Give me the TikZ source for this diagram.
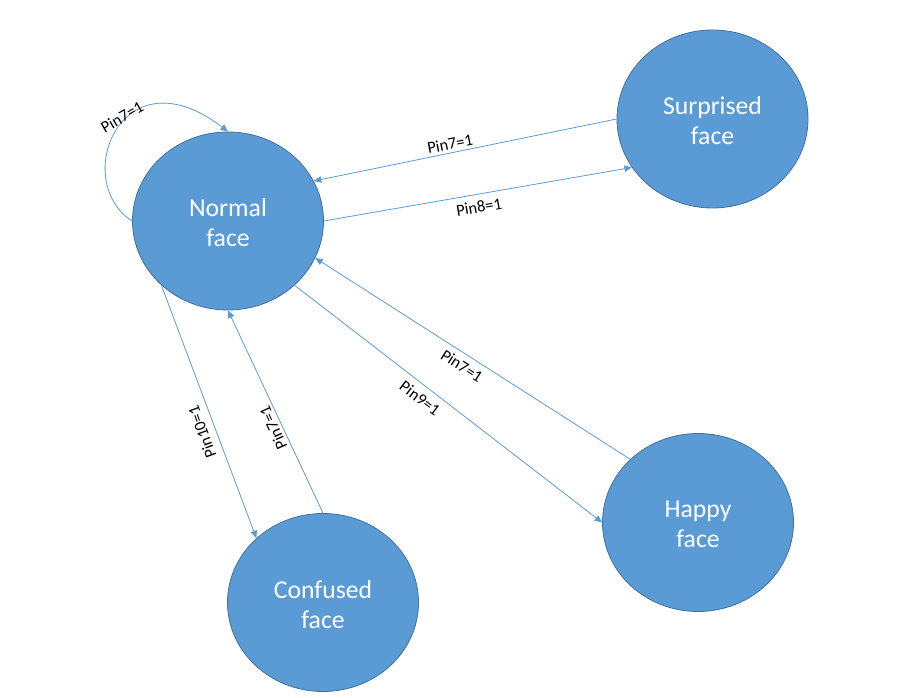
\documentclass[tikz,border=0pt]{standalone}
\usepackage{fontspec}
\setmainfont{Carlito}
\usetikzlibrary{shapes.geometric,arrows.meta}
\definecolor{fillblue}{HTML}{5B9BD5}
\definecolor{edgeblue}{HTML}{41719C}
\definecolor{lineblue}{HTML}{5B9BD5}
\tikzset{
  state/.style={ellipse, draw=edgeblue, line width=0.8pt, fill=fillblue,
    minimum width=191pt, minimum height=178pt, inner sep=0pt},
  statetext/.style={text=white, align=center, inner sep=0pt,
    font=\fontsize{25.7}{30}\selectfont},
  arr/.style={draw=lineblue, line width=0.8pt,
    -{Triangle[length=7.5pt,width=6.5pt]}},
  lbl/.style={font=\fontsize{16.5}{18}\selectfont, text=black, inner sep=1pt}
}
\begin{document}
\begin{tikzpicture}[x=1pt,y=1pt]
\useasboundingbox (0,0) rectangle (915,698);
\node[state] (N) at (228,477) {};
\node[state] (S) at (712.5,579) {};
\node[state] (H) at (698,175.5) {};
\node[state] (C) at (323,95.5) {};
\node[statetext] (Nt) at ([yshift=-2pt]N.center) {Normal\\face};
\node[statetext] (St) at ([yshift=-2pt]S.center) {Surprised\\face};
\node[statetext] (Ht) at ([yshift=-2pt]H.center) {Happy\\face};
\node[statetext] (Ct) at ([yshift=-2pt]C.center) {Confused\\face};

\draw[arr] (N.180) .. controls +(-62,40) and +(-107,82) .. (N.90);
\draw[arr] (S.180) -- (N.25);
\draw[arr] (N.0) -- (S.211);
\draw[arr] (H.137) -- (N.-23);
\draw[arr] (N.-44) -- (H.180);
\draw[arr] (N.224) -- (C.136);
\draw[arr] (C.90) -- (N.270);

\node[lbl, rotate=30] (l1) at (122,581) {Pin7=1};
\node[lbl, rotate=11] (l2) at (450,554) {Pin7=1};
\node[lbl, rotate=9.5] (l3) at (479,491) {Pin8=1};
\node[lbl, rotate=110] (l4) at (202,266) {Pin10=1};
\node[lbl, rotate=114] (l5) at (273,270) {Pin7=1};
\node[lbl, rotate=-37] (l6) at (420,300) {Pin9=1};
\node[lbl, rotate=-33] (l7) at (462,332) {Pin7=1};
\end{tikzpicture}
\end{document}
